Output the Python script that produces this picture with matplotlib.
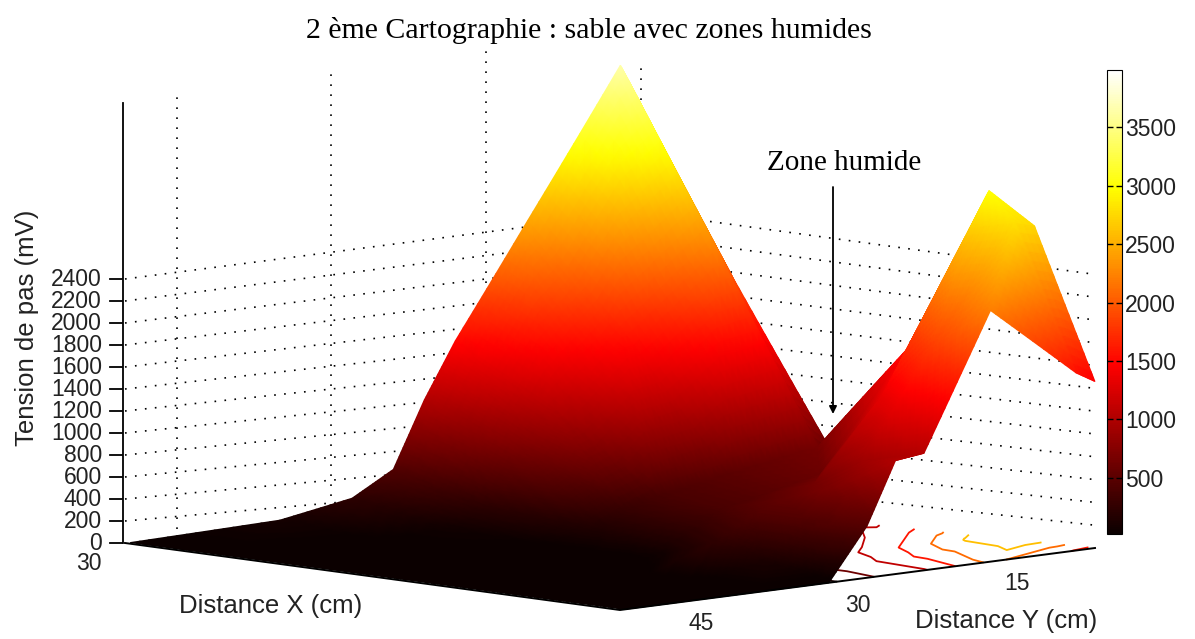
import numpy as np
import matplotlib
matplotlib.use('Agg')
import matplotlib.pyplot as plt
from matplotlib.cm import ScalarMappable
from matplotlib.colors import Normalize
from matplotlib.tri import Triangulation, UniformTriRefiner, LinearTriInterpolator

# Surface, tension in mV
dist_x = [0, 4, 7, 11, 17, 24, 30]
dist_y = [0, 2, 11, 18, 21, 24, 28, 35, 49.5]
tension_x0 = [1460, 1560, 2220, 1040, 1010, 460, 0, 0, 0]
tension_x4 = [2750, 2800, 1800, 900, 700, 450, 120, 0, 0]
tension_x7 = [3000, 2700, 1350, 650, 550, 450, 250, 30, 0]
tension_x11 = [1800, 1600, 600, 450, 400, 250, 40, 0, 0]
tension_x17 = [500, 650, 500, 380, 280, 150, 20, 0, 0]
tension_x24 = [1970, 2300, 1650, 1050, 650, 220, 60, 10, 0]
tension_x30 = [3300, 3650, 2450, 1500, 1020, 445, 226, 88, 0]

z_ticks = list(range(0, 2600, 200))
wall_y_ticks = [45, 30, 15, 0]
y_tick_labels = ['45', '30', '15']
cbar_ticks = [500, 1000, 1500, 2000, 2500, 3000, 3500]
cbar_min = 20
cbar_max = 3990

SANS = 'Liberation Sans'
SERIF = 'Liberation Serif'


def project(x, y, z):
    # the box is a bit skewed in the picture, so use its four corners directly
    x, y, z = np.asarray(x, float), np.asarray(y, float), np.asarray(z, float)
    u = x / 30
    t = (50 - y) / 50
    sx = (1-u)*(1-t)*620 + u*(1-t)*125 + (1-u)*t*1095 + u*t*641
    sy = (1-u)*(1-t)*610 + u*(1-t)*543 + (1-u)*t*548 + u*t*500
    scale = (1-u)*(1-t)*0.11 + u*(1-t)*0.11 + (1-u)*t*0.114 + u*t*0.12
    return sx, sy - z * scale


def grid_triangles(nx, ny):
    # two triangles per grid cell, split along the diagonal facing the viewer
    cells = []
    for i in range(nx - 1):
        for j in range(ny - 1):
            a = i * ny + j
            b = a + 1
            c = a + ny
            d = c + 1
            cells.append([a, b, c])
            cells.append([b, d, c])
    return np.array(cells)


fig = plt.figure(figsize=(11.95, 6.39), dpi=100)
ax = fig.add_axes([0, 0, 1, 1])

# Dotted grid on the two back walls
dots = dict(color='black', lw=1.2, ls=(0, (1, 5)), zorder=1)
for z in z_ticks[1:]:
    sx, sy = project([30, 30, 0], [50, 0, 0], [z, z, z])
    ax.plot(sx, sy, **dots)
for y in wall_y_ticks:
    sx, sy = project([30, 30], [y, y], [0, 3650 if y == 0 else 4000])
    ax.plot(sx, sy, **dots)

# Floor contours, the surface hides most of them
X, Y = np.meshgrid(dist_x, dist_y, indexing='ij')
Z = np.array([tension_x0, tension_x4, tension_x7, tension_x11,
              tension_x17, tension_x24, tension_x30], dtype=float)
fx, fy = project(X.ravel(), Y.ravel(), 0 * X.ravel())
grid_tri = Triangulation(X.ravel(), Y.ravel(), grid_triangles(len(dist_x), len(dist_y)))
ax.tricontour(fx, fy, grid_tri.triangles, Z.ravel(), levels=[100, 600, 1100, 1600, 2100, 2600],
              cmap='hot', vmin=cbar_min, vmax=cbar_max, linewidths=1.3, zorder=2)

# Surface, refined only so the colours run through the colormap
refiner = UniformTriRefiner(grid_tri)
linear = LinearTriInterpolator(grid_tri, Z.ravel())
fine_tri, fine_z = refiner.refine_field(Z.ravel(), triinterpolator=linear, subdiv=4)
sx, sy = project(fine_tri.x, fine_tri.y, fine_z)
tris = fine_tri.triangles
depth = (fine_tri.x[tris].mean(axis=1) / 30 + (50 - fine_tri.y[tris].mean(axis=1)) / 50)
tris = tris[np.argsort(-depth)]
ax.tripcolor(sx, sy, tris, fine_z, shading='gouraud', cmap='hot',
             vmin=cbar_min, vmax=cbar_max, zorder=3)

# Axes lines and ticks
sx, sy = project([30, 0, 0], [50, 50, 0], [0, 0, 0])
ax.plot(sx, sy, color='black', lw=1.4, zorder=4)
sx, sy = project([30, 30], [50, 50], [0, 4000])
ax.plot(sx - 2, sy, color='black', lw=1.3, zorder=4)
for z in z_ticks:
    sx, sy = project(30, 50, z)
    ax.plot([sx - 15, sx - 3], [sy, sy], color='black', lw=1.3, zorder=4)
    ax.text(sx - 23, sy, str(z), ha='right', va='center', fontsize=16.5, family=SANS, color='#222222')
ax.text(102, 563, '30', ha='right', va='center', fontsize=16.5, family=SANS, color='#222222')

for label, px, py in zip(y_tick_labels, [701, 858, 1017], [624, 605, 583]):
    ax.text(px, py, label, ha='center', va='center', fontsize=16.5, family=SANS, color='#222222')

ax.text(271, 606, 'Distance X (cm)', ha='center', va='center', fontsize=18.5, family=SANS, color='#222222')
ax.text(1006, 621, 'Distance Y (cm)', ha='center', va='center', fontsize=18.5, family=SANS, color='#222222')
ax.text(27, 328, 'Tension de pas (mV)', rotation=90, ha='center', va='center',
        fontsize=18.5, family=SANS, color='#222222')

ax.text(589, 30, '2 ème Cartographie : sable avec zones humides', ha='center', va='center',
        fontsize=21.5, family=SERIF)
ax.text(844, 163, 'Zone humide', ha='center', va='center', fontsize=21, family=SERIF)
ax.annotate('', xy=(833, 414), xytext=(833, 187),
            arrowprops=dict(arrowstyle='-|>', color='black', lw=1.3, mutation_scale=11, shrinkA=0, shrinkB=0),
            zorder=5)

ax.set_xlim(0, 1195)
ax.set_ylim(639, 0)
ax.axis('off')

# Colorbar
cax = fig.add_axes([1107 / 1195, 1 - 534 / 639, 15 / 1195, 464 / 639])
cbar = fig.colorbar(ScalarMappable(Normalize(cbar_min, cbar_max), cmap='hot'), cax=cax, ticks=cbar_ticks)
cax.tick_params(axis='y', direction='in', left=True, right=True, length=4, width=1, pad=2,
                labelsize=16.5, labelcolor='#222222')
for lab in cax.get_yticklabels():
    lab.set_family(SANS)

fig.savefig('out.png', dpi=100)
